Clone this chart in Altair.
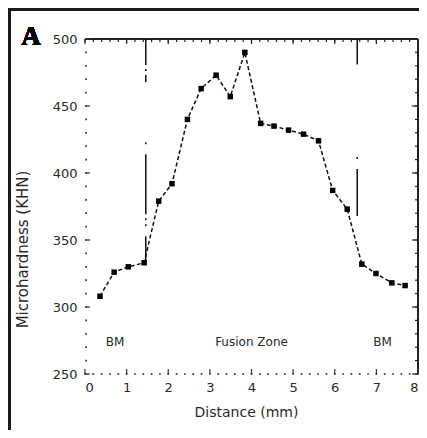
import altair as alt
import pandas as pd

# Data
distance = [0.36, 0.70, 1.04, 1.42, 1.77, 2.09, 2.46, 2.79, 3.15, 3.49, 3.84,
            4.22, 4.54, 4.89, 5.25, 5.61, 5.95, 6.30, 6.65, 6.99, 7.37, 7.69]
hardness = [308, 326, 330, 333, 379, 392, 440, 463, 473, 457, 490,
            437, 435, 432, 429, 424, 387, 373, 332, 325, 318, 316]

boundary_x = [1.46, 6.54]
boundary_top_y = [500, 500]
boundary_top_y2 = [468, 481]
boundary_low_y = [423, 412]
boundary_low_y2 = [333, 368]

zone_labels = ["BM", "Fusion Zone", "BM"]
zone_x = [0.72, 4.0, 7.15]
zone_y = [274, 274, 274]

x_ticks = [0, 1, 2, 3, 4, 5, 6, 7, 8]
y_ticks = [250, 300, 350, 400, 450, 500]
x_minor = [i / 5 for i in range(0, 41)]
y_minor = list(range(250, 501, 10))

W, H = 333, 335
FONT = "DejaVu Sans"
INK = "#2a2a2a"

xs = alt.Scale(domain=[0, 8], nice=False, zero=False)
ys = alt.Scale(domain=[250, 500], nice=False, zero=False)

df = pd.DataFrame({"d": distance, "h": hardness})
bdf = pd.DataFrame({"x": boundary_x, "y": boundary_top_y, "y2": boundary_top_y2,
                    "ly": boundary_low_y, "ly2": boundary_low_y2})
zdf = pd.DataFrame({"t": zone_labels, "x": zone_x, "y": zone_y})
xminor_df = pd.DataFrame({"x": x_minor})
yminor_df = pd.DataFrame({"y": y_minor})
xmajor_df = pd.DataFrame({"x": x_ticks})
ymajor_df = pd.DataFrame({"y": y_ticks})

x_axis = alt.Axis(values=x_ticks, domain=False, ticks=False, grid=False,
                  labelFont=FONT, labelFontSize=13, labelColor=INK, labelPadding=7,
                  title="Distance (mm)", titleFont=FONT, titleFontSize=14,
                  titleFontWeight="normal", titleColor=INK,
                  titleX=161, titleY=38, titleBaseline="middle", titleAlign="center")
y_axis = alt.Axis(values=y_ticks, domain=False, ticks=False, grid=False,
                  labelFont=FONT, labelFontSize=13, labelColor=INK, labelPadding=8,
                  title="Microhardness (KHN)", titleFont=FONT, titleFontSize=15,
                  titleFontWeight="normal", titleColor=INK,
                  titleX=-63, titleY=210, titleAngle=270,
                  titleBaseline="middle", titleAlign="center")

line = alt.Chart(df).mark_line(color="#111", strokeWidth=1.5, strokeDash=[4, 2.5]).encode(
    x=alt.X("d:Q", scale=xs, axis=x_axis),
    y=alt.Y("h:Q", scale=ys, axis=y_axis),
)
pts = alt.Chart(df).mark_point(shape="square", filled=True, color="#000", size=30, opacity=1).encode(
    x=alt.X("d:Q", scale=xs), y=alt.Y("h:Q", scale=ys))

b_top = alt.Chart(bdf).mark_rule(color="#111", strokeWidth=1.5, strokeDash=[26, 4, 2, 4]).encode(
    x=alt.X("x:Q", scale=xs), y=alt.Y("y:Q", scale=ys), y2="y2:Q")
b_low = alt.Chart(bdf).mark_rule(color="#111", strokeWidth=1.5, strokeDash=[2, 10, 60, 4, 2, 4]).encode(
    x=alt.X("x:Q", scale=xs), y=alt.Y("ly:Q", scale=ys), y2="ly2:Q")

zones = alt.Chart(zdf).mark_text(font=FONT, fontSize=12, color=INK, baseline="middle", align="center").encode(
    x=alt.X("x:Q", scale=xs), y=alt.Y("y:Q", scale=ys), text="t:N")

# frame of the plot (top and right solid axes)
top_line = alt.Chart(df).mark_rule(color="#222", strokeWidth=1.5).encode(
    x=alt.value(0), x2=alt.value(W), y=alt.value(0))
right_line = alt.Chart(df).mark_rule(color="#222", strokeWidth=2).encode(
    x=alt.value(W), y=alt.value(0), y2=alt.value(H))

top_minor = alt.Chart(xminor_df).mark_rule(color="#222", strokeWidth=1.2).encode(
    x=alt.X("x:Q", scale=xs), y=alt.value(0), y2=alt.value(3))
top_major = alt.Chart(xmajor_df).mark_rule(color="#222", strokeWidth=1.2).encode(
    x=alt.X("x:Q", scale=xs), y=alt.value(0), y2=alt.value(5))
right_minor = alt.Chart(yminor_df).mark_rule(color="#222", strokeWidth=1.2).encode(
    y=alt.Y("y:Q", scale=ys), x=alt.value(W), x2=alt.value(W - 3))
right_major = alt.Chart(ymajor_df).mark_rule(color="#222", strokeWidth=1.2).encode(
    y=alt.Y("y:Q", scale=ys), x=alt.value(W), x2=alt.value(W - 6))

# faded bottom / left axes: dotted minor ticks and short major ticks
bottom_dots = alt.Chart(xminor_df).mark_square(color="#333", size=3, opacity=1).encode(
    x=alt.X("x:Q", scale=xs), y=alt.value(H))
left_dots = alt.Chart(yminor_df).mark_square(color="#333", size=3, opacity=1).encode(
    y=alt.Y("y:Q", scale=ys), x=alt.value(1))
bottom_major = alt.Chart(xmajor_df).mark_rule(color="#333", strokeWidth=1.2).encode(
    x=alt.X("x:Q", scale=xs), y=alt.value(H), y2=alt.value(H - 5))
left_major = alt.Chart(ymajor_df).mark_rule(color="#333", strokeWidth=1.2).encode(
    y=alt.Y("y:Q", scale=ys), x=alt.value(0), x2=alt.value(5))

# outer panel border (top and left visible)
border_top = alt.Chart(df).mark_rule(color="#1a1a1a", strokeWidth=3).encode(
    x=alt.value(-77), x2=alt.value(W + 2), y=alt.value(-29.5))
border_left = alt.Chart(df).mark_rule(color="#1a1a1a", strokeWidth=3).encode(
    x=alt.value(-75.5), y=alt.value(-31), y2=alt.value(H + 60))

panel_letter = alt.Chart(df).mark_text(text="A", font="Liberation Serif", fontSize=27,
                                        fontWeight="bold", color="#000",
                                        align="center", baseline="alphabetic").encode(
    x=alt.value(-54), y=alt.value(6))

chart = alt.layer(
    border_top, border_left, panel_letter,
    top_line, right_line, top_minor, top_major, right_minor, right_major,
    bottom_dots, left_dots, bottom_major, left_major,
    b_top, b_low, line, pts, zones,
).properties(
    width=W, height=H,
    autosize=alt.AutoSizeParams(type="none"),
    padding={"left": 77, "top": 31, "right": 1, "bottom": 56},
    background="white",
).configure_view(strokeWidth=0)

chart.save("out.html", embed_options={"renderer": "svg", "actions": False})
